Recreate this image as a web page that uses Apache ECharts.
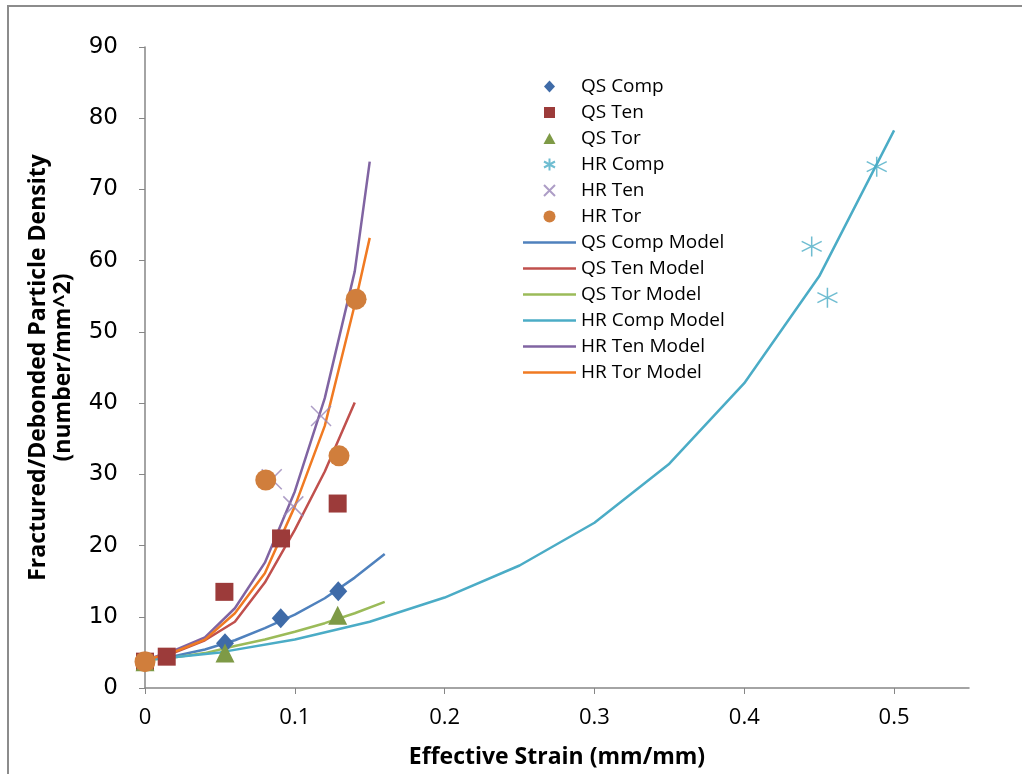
<!DOCTYPE html>
<html><head><meta charset="utf-8">
<script src="https://cdn.jsdelivr.net/npm/echarts@6/dist/echarts.min.js"></script>
<style>html,body{margin:0;padding:0;background:#fff}#c{width:1022px;height:774px}</style>
</head><body><div id="c"></div>
<script>
// ---- data (x = effective strain, y = density) ----
const xTicks = [0, 0.1, 0.2, 0.3, 0.4, 0.5];
const qsComp = [[0, 3.7], [0.0534, 6.3], [0.0906, 9.8], [0.129, 13.6]];
const qsTen  = [[0, 3.7], [0.0145, 4.4], [0.053, 13.5], [0.0908, 21.0], [0.1286, 25.9]];
const qsTor  = [[0, 3.7], [0.0534, 4.9], [0.1286, 10.2]];
const hrComp = [[0.445, 62.0], [0.4555, 54.8], [0.4884, 73.2]];
const hrTen  = [[0.0846, 29.3], [0.099, 25.5], [0.1175, 38.2]];
const hrTor  = [[0, 3.7], [0.0806, 29.2], [0.1295, 32.6], [0.1409, 54.6]];

const qsCompModel = [[0, 3.9], [0.02, 4.5], [0.04, 5.4], [0.06, 6.7], [0.08, 8.4], [0.10, 10.3], [0.12, 12.6], [0.14, 15.5], [0.16, 18.8]];
const qsTenModel  = [[0, 3.9], [0.02, 5.0], [0.04, 6.7], [0.06, 9.3], [0.08, 14.8], [0.10, 22.2], [0.12, 30.4], [0.14, 40.1]];
const qsTorModel  = [[0, 3.9], [0.02, 4.3], [0.04, 4.9], [0.06, 5.9], [0.08, 6.8], [0.10, 7.9], [0.12, 9.1], [0.14, 10.5], [0.16, 12.1]];
const hrCompModel = [[0, 3.9], [0.05, 5.0], [0.10, 6.8], [0.15, 9.3], [0.20, 12.7], [0.25, 17.2], [0.30, 23.2], [0.35, 31.5], [0.40, 42.8], [0.45, 57.8], [0.50, 78.3]];
const hrTenModel  = [[0, 3.9], [0.02, 5.3], [0.04, 7.1], [0.06, 11.2], [0.08, 17.6], [0.10, 27.6], [0.12, 40.7], [0.14, 58.5], [0.15, 73.9]];
const hrTorModel  = [[0, 3.9], [0.02, 5.1], [0.04, 6.8], [0.06, 10.5], [0.08, 16.1], [0.10, 25.5], [0.12, 36.8], [0.14, 53.8], [0.15, 63.2]];

const markerNames = ['QS Comp', 'QS Ten', 'QS Tor', 'HR Comp', 'HR Ten', 'HR Tor'];
const modelNames = ['QS Comp Model', 'QS Ten Model', 'QS Tor Model', 'HR Comp Model', 'HR Ten Model', 'HR Tor Model'];

const ASTER = 'path://M10,0 L10,20 M1,5 L19,15 M1,15 L19,5';
const XMARK = 'path://M0,0 L20,20 M0,20 L20,0';
// legend icons drawn inside a 53x13 box (symbol centred)
const BOX = 'path://M0,0M53,13';
const legendIcons = [
  BOX + 'M26.5,0.5L32,6.5L26.5,12.5L21,6.5Z',
  BOX + 'M21,1L32,1L32,12L21,12Z',
  BOX + 'M26.5,1L32.5,12L20.5,12Z',
  BOX + 'M26.5,0.5L26.5,12.5M21,3.5L32,9.5M21,9.5L32,3.5',
  BOX + 'M21,1L32,12M21,12L32,1',
  BOX + 'M20.5,6.5A6,6,0,1,0,32.5,6.5A6,6,0,1,0,20.5,6.5Z'
];
const LINE_ICON = BOX + 'M0,5.2L53,5.2L53,7.8L0,7.8Z';

const font = '"Open Sans", sans-serif';

function sc(name, data, symbol, size, color, extra) {
  return Object.assign({
    name, type: 'scatter', data, symbol, symbolSize: size, z: 5,
    itemStyle: { color, opacity: 1 }
  }, extra || {});
}
function ln(name, data, color) {
  return { name, type: 'line', data, symbol: 'none', showSymbol: false, z: 3,
    lineStyle: { color, width: 2.5 }, itemStyle: { color } };
}

const legendData = markerNames.map((n, i) => ({ name: n, icon: legendIcons[i] }))
  .concat(modelNames.map(n => ({ name: n, icon: LINE_ICON, itemStyle: { borderWidth: 0 } })));

const chart = echarts.init(document.getElementById('c'), null, { renderer: 'canvas' });
chart.setOption({
  animation: false,
  backgroundColor: '#fff',
  grid: { left: 145, top: 47, width: 824, height: 641, containLabel: false },
  graphic: [{ type: 'rect', shape: { x: 8, y: 6, width: 1100, height: 900 },
    style: { fill: 'none', stroke: '#8c8c8c', lineWidth: 2 }, z: -10 }],
  legend: {
    orient: 'vertical', left: 522, top: 77, padding: 0, itemWidth: 53, itemHeight: 13, itemGap: 7,
    data: legendData,
    textStyle: { fontFamily: font, fontSize: 19, color: '#000' }
  },
  xAxis: {
    type: 'value', min: 0, max: 0.55, interval: 0.1,
    name: 'Effective Strain (mm/mm)', nameLocation: 'middle', nameGap: 58,
    nameTextStyle: { fontFamily: font, fontWeight: 'bold', fontSize: 23, color: '#000' },
    axisLine: { show: true, lineStyle: { color: '#868686', width: 1.5 } },
    axisTick: { show: true, length: 6, customValues: xTicks, lineStyle: { color: '#868686' } },
    axisLabel: { customValues: xTicks, margin: 19, fontFamily: '"Liberation Sans Narrow", "Open Sans", sans-serif', fontSize: 22, color: '#000',
      formatter: v => String(Math.round(v * 10) / 10) },
    splitLine: { show: false }
  },
  yAxis: {
    type: 'value', min: 0, max: 90, interval: 10,
    name: 'Fractured/Debonded Particle Density\n(number/mm^2)', nameLocation: 'middle', nameGap: 69,
    nameTextStyle: { fontFamily: font, fontWeight: 'bold', fontSize: 23, lineHeight: 25, color: '#000' },
    axisLine: { show: true, lineStyle: { color: '#868686', width: 1.5 } },
    axisTick: { show: true, length: 6, lineStyle: { color: '#868686' } },
    axisLabel: { margin: 27, fontFamily: '"DejaVu Sans", sans-serif', fontSize: 23, color: '#000' },
    splitLine: { show: false }
  },
  series: [
    sc('QS Comp', qsComp, 'diamond', [18, 20], '#3F6BA8'),
    sc('QS Ten', qsTen, 'rect', 18, '#9C3B3A'),
    sc('QS Tor', qsTor, 'triangle', 19, '#7E9A46'),
    sc('HR Comp', hrComp, ASTER, 20, '#4BACC6', { itemStyle: { color: '#4BACC6', borderColor: '#4BACC6', borderWidth: 1.5 } }),
    sc('HR Ten', hrTen, XMARK, 20, '#9884B8', { itemStyle: { color: '#9884B8', borderColor: '#9884B8', borderWidth: 1.5 } }),
    sc('HR Tor', hrTor, 'circle', 21, '#D07E3C'),
    ln('QS Comp Model', qsCompModel, '#4F81BD'),
    ln('QS Ten Model', qsTenModel, '#C0504D'),
    ln('QS Tor Model', qsTorModel, '#9BBB59'),
    ln('HR Comp Model', hrCompModel, '#4BACC6'),
    ln('HR Ten Model', hrTenModel, '#8064A2'),
    ln('HR Tor Model', hrTorModel, '#F07A22')
  ]
});
</script></body></html>
